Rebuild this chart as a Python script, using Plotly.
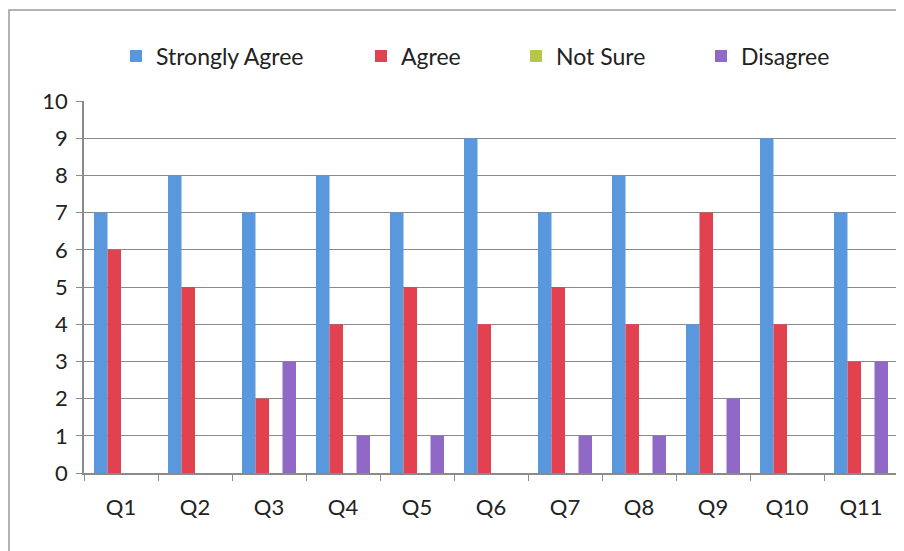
import plotly.graph_objects as go

categories = ["Q1", "Q2", "Q3", "Q4", "Q5", "Q6", "Q7", "Q8", "Q9", "Q10", "Q11"]
strongly_agree = [7, 8, 7, 8, 7, 9, 7, 8, 4, 9, 7]
agree = [6, 5, 2, 4, 5, 4, 5, 4, 7, 4, 3]
not_sure = [0, 0, 0, 0, 0, 0, 0, 0, 0, 0, 0]
disagree = [0, 0, 3, 1, 1, 0, 1, 1, 2, 0, 3]
y_ticks = list(range(0, 11))

series = [
    ("Strongly Agree", strongly_agree, "#5A98DE", "legend"),
    ("Agree", agree, "#E2424F", "legend2"),
    ("Not Sure", not_sure, "#B7C64A", "legend3"),
    ("Disagree", disagree, "#9068C6", "legend4"),
]

fig = go.Figure()
for name, vals, color, lg in series:
    fig.add_trace(go.Bar(x=categories, y=vals, name=name, marker_color=color,
                         marker_line_width=0, legend=lg, showlegend=True))

font_family = "Lato, 'Open Sans', sans-serif"
FS = 22
FS_LEG = 23
# page offset: the html body has an 8px margin
OFF = 8
text_start_px = [157, 402, 557, 742]
PX0, PX1, PY0, PY1 = 84, 898, 101, 473  # plot area in page pixels
W_plot = PX1 - PX0
H_plot = PY1 - PY0
def px_to_paper_x(px):
    return (px - PX0) / W_plot

legend_common = dict(orientation="h", yanchor="middle", y=(PY1 - 56) / H_plot,
                     xanchor="left", bgcolor="rgba(0,0,0,0)",
                     font=dict(family=font_family, size=FS_LEG, color="#222"),
                     itemwidth=30, tracegroupgap=0)

layout_legends = {}
for i, key in enumerate(["legend", "legend2", "legend3", "legend4"]):
    layout_legends[key] = dict(legend_common, x=px_to_paper_x(text_start_px[i] - 41))

W, H = 904 - OFF, 551 - OFF
fig.update_layout(
    width=W, height=H,
    margin=dict(l=PX0 - OFF, r=W - (PX1 - OFF), t=PY0 - OFF, b=H - (PY1 - OFF), autoexpand=False),
    paper_bgcolor="white", plot_bgcolor="white",
    barmode="group", bargap=0.27, bargroupgap=0,
    showlegend=True,
    font=dict(family=font_family, size=FS, color="#222"),
    xaxis=dict(showline=True, linecolor="#8a8a8a", linewidth=1.5,
               ticks="outside", tickson="boundaries", ticklen=6, tickcolor="#8a8a8a",
               ticklabelstandoff=14, showgrid=False, automargin=False,
               tickfont=dict(family=font_family, size=FS, color="#222")),
    yaxis=dict(range=[0, 10], tickvals=y_ticks, showgrid=True, gridcolor="#8a8a8a",
               gridwidth=1, showline=True, linecolor="#8a8a8a", linewidth=1.5,
               ticks="outside", ticklen=6, tickcolor="#8a8a8a", zeroline=False,
               ticklabelstandoff=4, automargin=False,
               tickfont=dict(family=font_family, size=FS, color="#222")),
    **layout_legends,
)

fig.add_shape(type="rect", xref="paper", yref="paper",
              x0=(9 - PX0) / W_plot, x1=(920 - PX0) / W_plot,
              y0=(PY1 - 570) / H_plot, y1=(PY1 - 10) / H_plot,
              line=dict(color="#9a9a9a", width=1.5), fillcolor="rgba(0,0,0,0)",
              layer="below")

fig.write_html("out.html")
